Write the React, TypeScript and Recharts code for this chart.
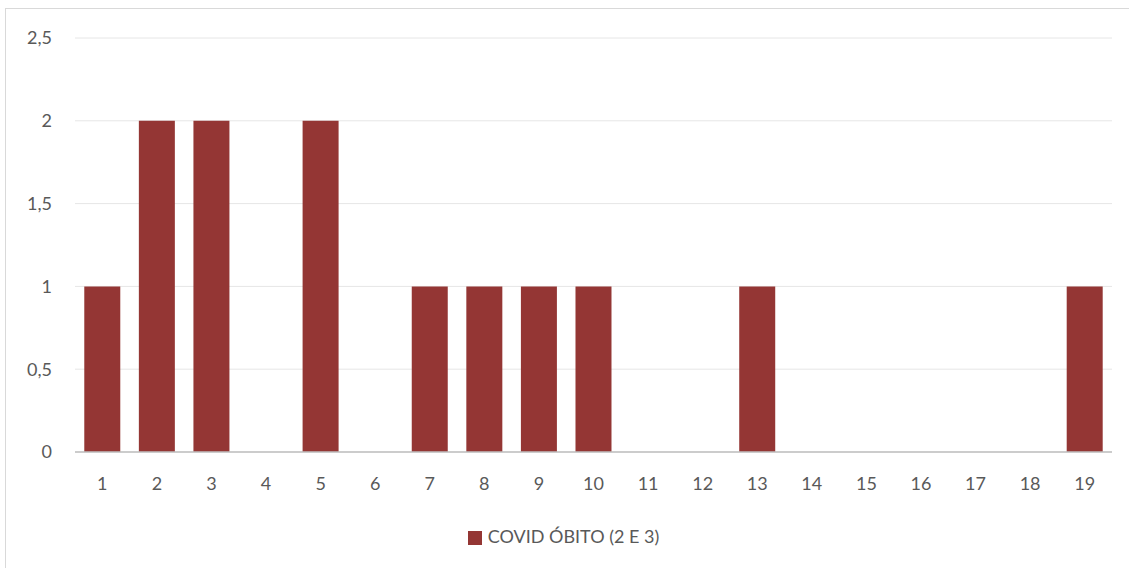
import React from 'react';
import { BarChart, Bar, XAxis, YAxis, CartesianGrid, Legend } from 'recharts';

const categories = ['1', '2', '3', '4', '5', '6', '7', '8', '9', '10', '11', '12', '13', '14', '15', '16', '17', '18', '19'];
const obitos = [1, 2, 2, 0, 2, 0, 1, 1, 1, 1, 0, 0, 1, 0, 0, 0, 0, 0, 1];
const yTicks = [0, 0.5, 1, 1.5, 2, 2.5];

const data = categories.map((c, i) => ({ name: c, value: obitos[i] }));

const FONT = 'Lato, "Open Sans", sans-serif';
const TEXT = '#595959';

const App: React.FC = () => {
  return (
    <div style={{ position: 'fixed', left: 0, top: 0, width: 1129, height: 568, background: '#fff', overflow: 'hidden', fontFamily: FONT }}>
      <div
        style={{
          position: 'absolute',
          left: 5,
          top: 8,
          width: 1140,
          height: 580,
          border: '1px solid #d9d9d9',
          boxSizing: 'border-box'
        }}
      />
      <div style={{ position: 'absolute', left: 0, top: 0 }}>
        <BarChart
          width={1129}
          height={568}
          data={data}
          margin={{ top: 38, right: 17, left: 15, bottom: 32 }}
          barCategoryGap="17%"
        >
          <CartesianGrid vertical={false} stroke="#e6e6e6" />
          <XAxis
            dataKey="name"
            axisLine={{ stroke: '#bfbfbf', strokeWidth: 1.5 }}
            tickLine={false}
            tick={{ fill: TEXT, fontSize: 18, fontFamily: FONT }}
            tickMargin={19}
            interval={0}
            height={60}
          />
          <YAxis
            width={60}
            domain={[0, 2.5]}
            ticks={yTicks}
            axisLine={false}
            tickLine={false}
            tickMargin={17}
            tick={{ fill: TEXT, fontSize: 18, fontFamily: FONT }}
            tickFormatter={(v: number) => String(v).replace('.', ',')}
          />
          <Legend
            verticalAlign="bottom"
            iconType="square"
            iconSize={14}
            wrapperStyle={{ top: 524, left: 4, width: 1129, height: 24, lineHeight: '24px', fontSize: 18, fontFamily: FONT }}
            formatter={(value: string) => <span style={{ color: TEXT, marginLeft: 2 }}>{value}</span>}
          />
          <Bar dataKey="value" name="COVID ÓBITO (2 E 3)" fill="#943634" isAnimationActive={false} />
        </BarChart>
      </div>
    </div>
  );
};

export default App;
